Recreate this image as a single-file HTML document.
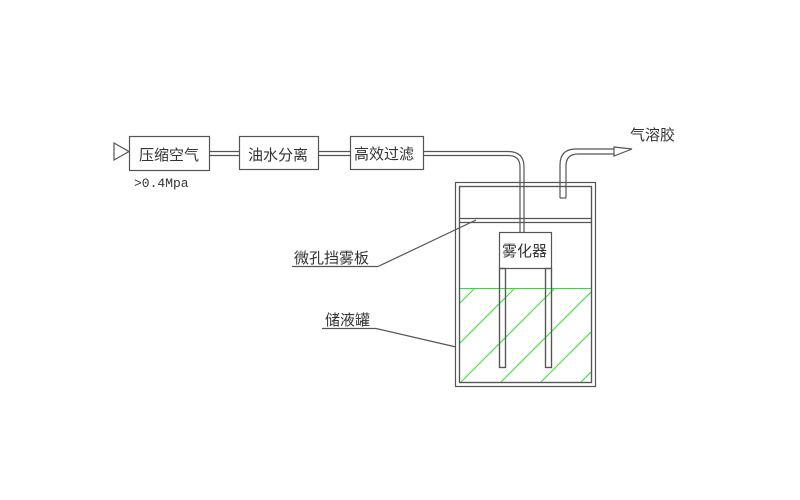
<!DOCTYPE html>
<html><head><meta charset="utf-8"><style>
html,body{margin:0;padding:0;background:#fff;}
svg{display:block;}
text{font-family:"Liberation Sans","Noto Sans CJK SC",sans-serif;fill:#333;}
</style></head><body>
<svg width="800" height="500" viewBox="0 0 800 500" xmlns="http://www.w3.org/2000/svg">
<defs><clipPath id="liq"><rect x="459" y="288" width="132" height="94"/></clipPath></defs>
<g stroke="#555" stroke-width="1.2" fill="none">
<!-- triangle -->
<polygon points="114,143 114,160 129,151.5"/>
<rect x="129.5" y="136.5" width="80" height="34" fill="#fff"/>
<rect x="239.5" y="136.5" width="79" height="33" fill="#fff"/>
<rect x="350.5" y="136.5" width="73" height="33" fill="#fff"/>
<!-- pipes -->
<line x1="210" y1="151.5" x2="239" y2="151.5"/><line x1="210" y1="155.5" x2="239" y2="155.5"/>
<line x1="319" y1="151.5" x2="350" y2="151.5"/><line x1="319" y1="155.5" x2="350" y2="155.5"/>
<path d="M424 151.5 H508 Q524 151.5 524 167 V232"/>
<path d="M424 155.5 H508 Q520 155.5 520 167 V232"/>
<!-- outlet -->
<path d="M560 198 V165 Q560 149 576 149 H614"/>
<path d="M566 198 V166 Q566 154 578 154 H614"/>
<line x1="560" y1="198" x2="566" y2="198"/>
<path d="M614 147 L632 149 L614 156 Z" fill="#fff"/>
<!-- tank -->
<rect x="455.5" y="182.5" width="140" height="204"/>
<rect x="459.5" y="186.5" width="132" height="196"/>
<line x1="459" y1="218.5" x2="591" y2="218.5"/>
<line x1="459" y1="222.5" x2="591" y2="222.5"/>
<!-- atomizer -->
<rect x="499.5" y="232.5" width="52" height="36" fill="#fff"/>
<rect x="499.5" y="268.5" width="6" height="99"/>
<rect x="545.5" y="268.5" width="6" height="99"/>
<!-- leaders -->
<line x1="292" y1="266.5" x2="378" y2="266.5"/>
<line x1="378" y1="266.5" x2="476" y2="220"/>
<line x1="322" y1="328.5" x2="376" y2="328.5"/>
<line x1="376" y1="328.5" x2="456" y2="347"/>
</g>
<g stroke="#33dd33" stroke-width="1" clip-path="url(#liq)">
<line x1="459" y1="288.5" x2="591" y2="288.5"/>
<line x1="763" y1="0" x2="263" y2="500"/>
<line x1="803" y1="0" x2="303" y2="500"/>
<line x1="843" y1="0" x2="343" y2="500"/>
<line x1="883" y1="0" x2="383" y2="500"/>
<line x1="923" y1="0" x2="423" y2="500"/>
<line x1="963" y1="0" x2="463" y2="500"/>
</g>
<g stroke="#555" stroke-width="1.2" fill="none">
<rect x="499.5" y="268.5" width="6" height="99" fill="none"/>
<rect x="545.5" y="268.5" width="6" height="99" fill="none"/>
<rect x="459.5" y="186.5" width="132" height="196"/>
</g>
<text x="139" y="160" font-size="15">压缩空气</text>
<text x="248" y="160" font-size="15">油水分离</text>
<text x="354" y="159" font-size="15">高效过滤</text>
<text x="134" y="187" font-size="13" style="font-family:'Liberation Mono','Noto Sans CJK SC',monospace">&gt;0.4Mpa</text>
<text x="630" y="140" font-size="15">气溶胶</text>
<text x="502" y="256" font-size="15">雾化器</text>
<text x="294" y="263" font-size="15">微孔挡雾板</text>
<text x="325" y="325" font-size="15">储液罐</text>
</svg>
</body></html>
